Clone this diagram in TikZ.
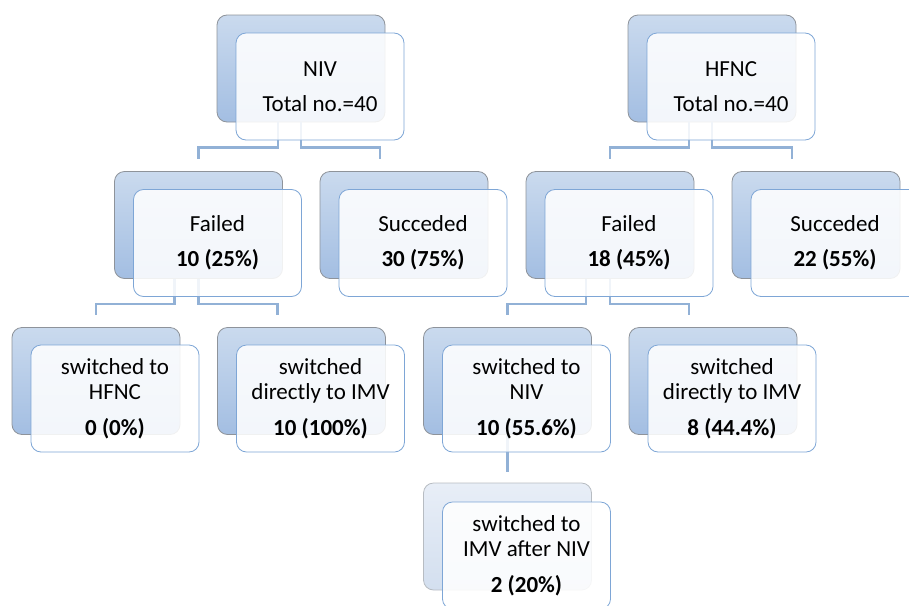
\documentclass[tikz,border=0pt]{standalone}
\usepackage{fontspec}
\setmainfont{Carlito}
\usetikzlibrary{calc}
\definecolor{backtop}{HTML}{CADAEE}
\definecolor{backbot}{HTML}{A3BEE2}
\definecolor{backline}{HTML}{8E939A}
\definecolor{frontline}{HTML}{7EA6D6}
\definecolor{connc}{HTML}{92B1D6}
\definecolor{paletop}{HTML}{E8EEF7}
\definecolor{palebot}{HTML}{D3DFEF}
\definecolor{paleline}{HTML}{B7BCC2}
\tikzset{
  box/.style={minimum width=168pt, minimum height=107pt, rounded corners=10pt, inner sep=0pt},
  backbox/.style={box, draw=backline, line width=0.8pt, top color=backtop, bottom color=backbot},
  palebox/.style={box, draw=paleline, line width=0.8pt, top color=paletop, bottom color=palebot},
  frontbox/.style={box, draw=frontline, line width=0.8pt, fill=white, fill opacity=0.87, text opacity=1,
    align=center, text=black, font=\fontsize{23}{25}\selectfont},
  conn/.style={draw=connc, line width=2.2pt},
}
\begin{document}
\begin{tikzpicture}[x=1pt,y=-1pt]
\useasboundingbox (0,0) rectangle (909,605);
\clip (0,0) rectangle (909,605);
% back boxes
\node[backbox] (nivB)  at (301,68.5) {};
\node[backbox] (hfncB) at (712,68.5) {};
\node[backbox] (failLB) at (198.5,225) {};
\node[backbox] (succLB) at (404,225) {};
\node[backbox] (failRB) at (610,225) {};
\node[backbox] (succRB) at (816,225) {};
\node[backbox] (hfncLB) at (96,381) {};
\node[backbox] (imvLB)  at (301.5,381) {};
\node[backbox] (nivRB)  at (507.5,381) {};
\node[backbox] (imvRB)  at (713,381) {};
\node[palebox] (afterB) at (507.5,536.5) {};
% connectors
\draw[conn] ([xshift=-23pt]nivB.south) -- ++(0,25) -| ([yshift=12pt]failLB.north);
\draw[conn] (nivB.south) -- ++(0,25) -| ([xshift=-24pt,yshift=12pt]succLB.north);
\draw[conn] ([xshift=-23pt]hfncB.south) -- ++(0,25) -| ([yshift=12pt]failRB.north);
\draw[conn] (hfncB.south) -- ++(0,25) -| ([xshift=-24pt,yshift=12pt]succRB.north);
\draw[conn] ([xshift=-24pt]failLB.south) -- ++(0,25) -| ([yshift=12pt]hfncLB.north);
\draw[conn] (failLB.south) -- ++(0,25) -| ([xshift=-24pt,yshift=12pt]imvLB.north);
\draw[conn] ([xshift=-24pt]failRB.south) -- ++(0,25) -| ([yshift=12pt]nivRB.north);
\draw[conn] (failRB.south) -- ++(0,25) -| ([xshift=-24pt,yshift=12pt]imvRB.north);
\draw[conn] (nivRB.south) -- ([yshift=11pt]afterB.north);
% front boxes
\node[frontbox] (niv)  at (320,86.5) {NIV\\[10pt]Total no.=40};
\node[frontbox] (hfnc) at (731,86.5) {HFNC\\[10pt]Total no.=40};
\node[frontbox] (failL) at (217.5,243) {Failed\\[10pt]\textbf{10 (25\%)}};
\node[frontbox] (succL) at (423,243) {Succeded\\[10pt]\textbf{30 (75\%)}};
\node[frontbox] (failR) at (629,243) {Failed\\[10pt]\textbf{18 (45\%)}};
\node[frontbox] (succR) at (835,243) {Succeded\\[10pt]\textbf{22 (55\%)}};
\node[frontbox] (hfncL) at (115,398.5) {switched to\\HFNC\\[11pt]\textbf{0 (0\%)}};
\node[frontbox] (imvL)  at (320.5,398.5) {switched\\directly to IMV\\[11pt]\textbf{10 (100\%)}};
\node[frontbox] (nivR)  at (526.5,398.5) {switched to\\NIV\\[11pt]\textbf{10 (55.6\%)}};
\node[frontbox] (imvR)  at (732,398.5) {switched\\directly to IMV\\[11pt]\textbf{8 (44.4\%)}};
\node[frontbox] (after) at (526.5,555.5) {switched to\\IMV after NIV\\[11pt]\textbf{2 (20\%)}};
\end{tikzpicture}
\end{document}
